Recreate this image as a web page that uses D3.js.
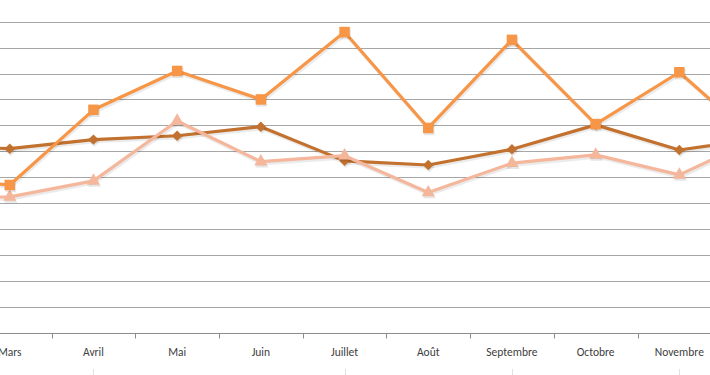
<!DOCTYPE html>
<html>
<head>
<meta charset="utf-8">
<script src="https://cdn.jsdelivr.net/npm/d3@7"></script>
<style>
  body { margin: 0; background: #fff; }
</style>
</head>
<body>
<div id="plot1"></div>
<script>
// months (Février and Décembre are only partly in view)
const months = ["Février", "Mars", "Avril", "Mai", "Juin", "Juillet", "Août", "Septembre", "Octobre", "Novembre", "Décembre"];
const serieCarres = [60, 57, 86, 101, 90, 116, 79, 113, 80.5, 100.5, 72];
const serieLosanges = [72.5, 71, 74.5, 76, 79.5, 66.3, 64.7, 70.8, 80.2, 70.5, 75];
const serieTriangles = [52, 52.4, 58.6, 81.7, 66, 68.3, 54.1, 65.4, 68.6, 60.9, 76];
const gridValues = d3.range(0, 130, 10);

const orange = "#f79646";
const brown = "#c2712f";
const salmon = "#f5b79c";

const width = 710;
const height = 375;
const bandW = 83.7;
const firstBand = -115.8;
const yTop = 21.7;
const yBottom = 332.7;

const x = d3.scaleBand()
  .domain(months)
  .range([firstBand, firstBand + bandW * months.length])
  .paddingInner(0).paddingOuter(0);

const y = d3.scaleLinear()
  .domain([0, 120])
  .range([yBottom, yTop]);

const svg = d3.create("svg")
  .attr("width", width)
  .attr("height", height)
  .style("display", "block");

// grid lines
svg.append("g")
  .selectAll("line")
  .data(gridValues.slice(1))
  .join("line")
  .attr("x1", 0).attr("x2", width)
  .attr("y1", d => Math.round(y(d)) + 0.5)
  .attr("y2", d => Math.round(y(d)) + 0.5)
  .attr("stroke", "#a6a6a6")
  .attr("stroke-width", 1);

// category axis
const xAxis = svg.append("g")
  .attr("transform", `translate(0,${Math.round(yBottom) + 0.5})`);
xAxis.append("line")
  .attr("x1", 0).attr("x2", width)
  .attr("stroke", "#8c8c8c");
xAxis.selectAll(".tk")
  .data(months.slice(1))
  .join("line")
  .attr("class", "tk")
  .attr("x1", d => Math.round(x(d)) + 0.5)
  .attr("x2", d => Math.round(x(d)) + 0.5)
  .attr("y1", 0).attr("y2", 5)
  .attr("stroke", "#8c8c8c");
// only the labels whose centre is on the page
xAxis.selectAll("text")
  .data(months.filter(m => x(m) + bandW / 2 > 0 && x(m) + bandW / 2 < width))
  .join("text")
  .attr("x", d => x(d) + bandW / 2)
  .attr("y", 22)
  .attr("text-anchor", "middle")
  .style("font-family", "Carlito, 'Open Sans', sans-serif")
  .style("font-size", "11.5px")
  .attr("fill", "#404040")
  .text(d => d);

// faint ticks of the lower frame
svg.append("g")
  .selectAll("line")
  .data(["Avril", "Juillet", "Septembre", "Novembre"])
  .join("line")
  .attr("x1", d => Math.round(x(d) + bandW * 0.5) + 0.5)
  .attr("x2", d => Math.round(x(d) + bandW * 0.5) + 0.5)
  .attr("y1", 369).attr("y2", 375)
  .attr("stroke", "#e0e0e0");

const cx = d => x(d) + bandW / 2;

function drawSeries(values, color, shape, size) {
  const pts = months.map((m, i) => [cx(m), y(values[i])]);
  const line = d3.line();
  // soft shadow
  svg.append("path")
    .attr("d", line(pts))
    .attr("transform", "translate(1,2)")
    .attr("fill", "none")
    .attr("stroke", "#000")
    .attr("stroke-opacity", 0.08)
    .attr("stroke-width", 3.5);
  svg.append("path")
    .attr("d", line(pts))
    .attr("fill", "none")
    .attr("stroke", color)
    .attr("stroke-width", 3.2)
    .attr("stroke-linejoin", "round");
  const sym = d3.symbol().type(shape).size(size);
  const g = svg.append("g");
  g.selectAll("path.sh")
    .data(pts)
    .join("path")
    .attr("transform", d => `translate(${d[0] + 1},${d[1] + 2})`)
    .attr("d", sym)
    .attr("fill", "#000")
    .attr("fill-opacity", 0.1);
  g.selectAll("path.mk")
    .data(pts)
    .join("path")
    .attr("transform", d => `translate(${d[0]},${d[1]})`)
    .attr("d", sym)
    .attr("fill", color);
}

drawSeries(serieLosanges, brown, d3.symbolDiamond2, 70);
drawSeries(serieTriangles, salmon, d3.symbolTriangle, 75);
drawSeries(serieCarres, orange, d3.symbolSquare, 110);

document.querySelector("#plot1").append(svg.node());
</script>
</body>
</html>
